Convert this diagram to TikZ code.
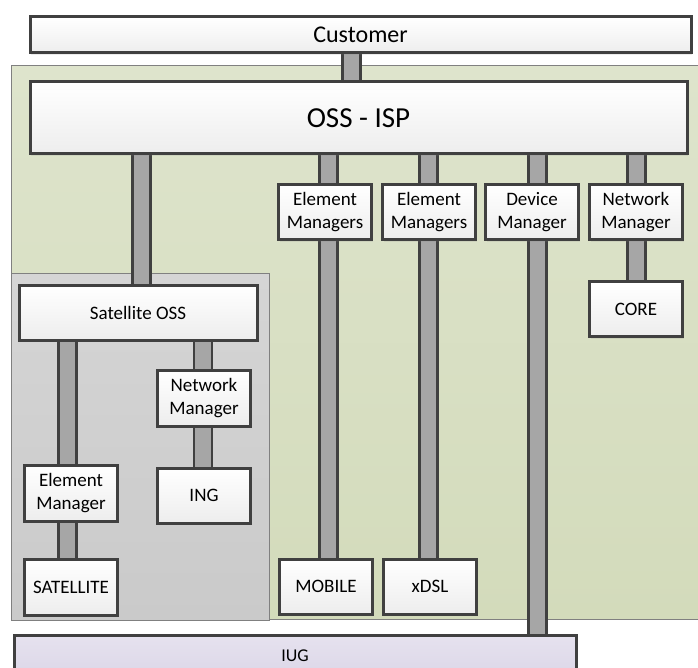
\documentclass[tikz,border=0pt]{standalone}
\usepackage{fontspec}
\setmainfont{Carlito}
\usetikzlibrary{shadows}
\pgfdeclarelayer{panels}
\pgfdeclarelayer{links}
\pgfsetlayers{panels,links,main}
\definecolor{edge}{HTML}{404040}
\definecolor{barfill}{HTML}{A6A6A6}
\definecolor{greentop}{HTML}{DEE4CC}
\definecolor{greenbot}{HTML}{D3DBBB}
\definecolor{graytop}{HTML}{D5D5D5}
\definecolor{graybot}{HTML}{CACACA}
\definecolor{purpletop}{HTML}{E6E2EF}
\definecolor{purplebot}{HTML}{DCD7E8}
\definecolor{panelline}{HTML}{808080}

\begin{document}
\begin{tikzpicture}[x=1pt,y=-1pt,
  box/.style={draw=edge, line width=3pt, top color=white, bottom color=black!7,
    inner sep=0pt, align=center, font=\fontsize{19}{23}\selectfont,
    drop shadow={shadow xshift=1pt, shadow yshift=-2pt, opacity=0.15}},
  small/.style={box, minimum width=93pt, minimum height=55pt},
  link/.style={draw=edge, line width=2.5pt, double=barfill, double distance=15.5pt},
  panel/.style={draw=panelline, line width=1pt}]
\useasboundingbox (0,0) rectangle (698,668);
\clip (0,0) rectangle (698,668);

% top level boxes
\node[box, minimum width=661pt, minimum height=36pt, font=\fontsize{24}{28}\selectfont]
  (customer) at (360.5,35) {Customer};
\node[box, minimum width=657pt, minimum height=72pt, font=\fontsize{29}{33}\selectfont]
  (oss) at (358.5,118) {OSS - ISP};

% managers under the ISP OSS
\node[small] (em1) at (325,212.5) {Element\\Managers};
\node[small] (em2) at (429,212.5) {Element\\Managers};
\node[small] (dev) at (532,212.5) {Device\\Manager};
\node[small] (net) at (636,212.5) {Network\\Manager};
\node[small] (core) at (636,309) {CORE};
\node[small] (mobile) at (326,586.5) {MOBILE};
\node[small] (xdsl) at (430,586.5) {xDSL};

% satellite domain
\node[box, minimum width=238pt, minimum height=55pt] (satoss) at (138,312.5) {Satellite OSS};
\node[small, minimum height=56pt] (satnm) at (204,398) {Network\\Manager};
\node[small] (ing) at (204,495.5) {ING};
\node[small, minimum height=56pt] (satem) at (71,493) {Element\\Manager};
\node[small, minimum height=56pt] (sat) at (71,587) {SATELLITE};

% interconnection gateway
\node[box, draw=edge, top color=purpletop, bottom color=purplebot,
  minimum width=562pt, minimum height=40pt, font=\fontsize{18}{22}\selectfont]
  (iug) at (295,655.5) {IUG};

% domain panels
\begin{pgfonlayer}{panels}
  \path[panel, top color=greentop, bottom color=greenbot] (11,66) rectangle (699,619);
  \path[panel, top color=graytop, bottom color=graybot] (11,273) rectangle (269,620);
\end{pgfonlayer}

% bars linking the boxes
\begin{pgfonlayer}{links}
  \draw[link] ([xshift=-9pt]customer.south) -- ([xshift=-9pt]customer.south |- oss.north);
  \draw[link] ([xshift=3.5pt]satoss.north) -- ([xshift=3.5pt]satoss.north |- oss.south);
  \draw[link] ([xshift=3.5pt]em1.north) -- ([xshift=3.5pt]em1.north |- oss.south);
  \draw[link] ([xshift=-0.5pt]em2.north) -- ([xshift=-0.5pt]em2.north |- oss.south);
  \draw[link] ([xshift=5.5pt]dev.north) -- ([xshift=5.5pt]dev.north |- oss.south);
  \draw[link] ([xshift=0.5pt]net.north) -- ([xshift=0.5pt]net.north |- oss.south);
  \draw[link] ([xshift=0.5pt]net.south) -- ([xshift=0.5pt]net.south |- core.north);
  \draw[link] ([xshift=3.5pt]em1.south) -- ([xshift=3.5pt]em1.south |- mobile.north);
  \draw[link] ([xshift=-0.5pt]em2.south) -- ([xshift=-0.5pt]em2.south |- xdsl.north);
  \draw[link] ([xshift=5.5pt]dev.south) -- ([xshift=5.5pt]dev.south |- iug.north);
  \draw[link] ([xshift=-3.5pt]satem.north) -- ([xshift=-3.5pt]satem.north |- satoss.south);
  \draw[link] ([xshift=-3.5pt]satem.south) -- ([xshift=-3.5pt]satem.south |- sat.north);
  \draw[link] ([xshift=-1pt]satnm.north) -- ([xshift=-1pt]satnm.north |- satoss.south);
  \draw[link] ([xshift=-1pt]satnm.south) -- ([xshift=-1pt]satnm.south |- ing.north);
\end{pgfonlayer}
\end{tikzpicture}
\end{document}
